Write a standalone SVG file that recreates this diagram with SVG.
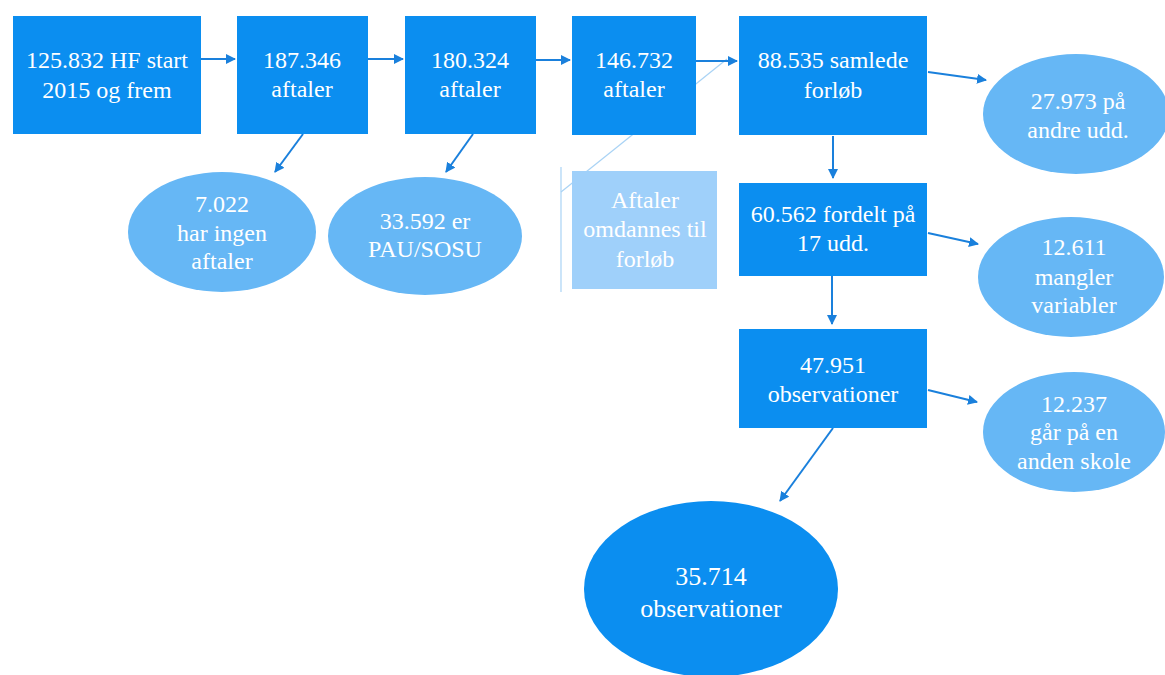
<svg xmlns="http://www.w3.org/2000/svg" width="1165" height="675" viewBox="0 0 1165 675">
<style>
.box{fill:#0b8ef0}
.ell{fill:#66b7f5}
.big{fill:#0b8ef0}
.pale{fill:#9fd0fa}
.t{font-size:24px;fill:#ffffff;text-anchor:middle}
.c{stroke:#1a80dc;stroke-width:2;fill:none;marker-end:url(#ah)}
.thin{stroke:#a9d3f5;stroke-width:1.2;fill:none}
</style>
<defs>
<marker id="ah" viewBox="0 0 10 10" refX="9" refY="5" markerWidth="5" markerHeight="5" orient="auto" markerUnits="strokeWidth">
<path d="M0,0 L10,5 L0,10 z" fill="#1a80dc"/>
</marker>
</defs>
<rect width="1165" height="675" fill="#ffffff"/>
<g id="connectors">
<line class="thin" x1="561" y1="167" x2="561" y2="292"/>
<line class="thin" x1="561" y1="192" x2="727" y2="59"/>
<line class="c" x1="201" y1="59" x2="235" y2="59"/>
<line class="c" x1="368" y1="59" x2="403" y2="59"/>
<line class="c" x1="536" y1="60" x2="570" y2="60"/>
<line class="c" x1="696" y1="61" x2="737" y2="61"/>
<line class="c" x1="303" y1="134" x2="275" y2="172"/>
<line class="c" x1="473" y1="134" x2="446" y2="172"/>
<line class="c" x1="928" y1="72" x2="986" y2="80"/>
<line class="c" x1="833" y1="136" x2="833" y2="178"/>
<line class="c" x1="928" y1="233" x2="978" y2="244"/>
<line class="c" x1="832" y1="276" x2="832" y2="324"/>
<line class="c" x1="928" y1="390" x2="977" y2="402"/>
<line class="c" x1="833" y1="428" x2="780" y2="501"/>
</g>
<g font-family="'Liberation Serif', 'Times New Roman', 'DejaVu Serif', serif">
<g id="n1"><rect class="box" x="13" y="16" width="188" height="118"/><text class="t" x="107" y="68">125.832 HF start</text><text class="t" x="107" y="98">2015 og frem</text></g>
<g id="n2"><rect class="box" x="237" y="16" width="131" height="118"/><text class="t" x="302" y="68">187.346</text><text class="t" x="302" y="97">aftaler</text></g>
<g id="n3"><rect class="box" x="405" y="16" width="131" height="118"/><text class="t" x="470" y="68">180.324</text><text class="t" x="470" y="97">aftaler</text></g>
<g id="n4"><rect class="box" x="572" y="16" width="124" height="119"/><text class="t" x="634" y="68">146.732</text><text class="t" x="634" y="97">aftaler</text></g>
<g id="n5"><rect class="box" x="739" y="16" width="188" height="119"/><text class="t" x="833" y="68">88.535 samlede</text><text class="t" x="833" y="98">forløb</text></g>
<g id="n6"><rect class="box" x="739" y="183" width="188" height="93"/><text class="t" x="833" y="222">60.562 fordelt på</text><text class="t" x="833" y="251">17 udd.</text></g>
<g id="n7"><rect class="box" x="739" y="329" width="188" height="99"/><text class="t" x="833" y="373">47.951</text><text class="t" x="833" y="402">observationer</text></g>
<g id="n8"><ellipse class="ell" cx="222" cy="232" rx="94" ry="60"/><text class="t" x="222" y="212">7.022</text><text class="t" x="222" y="241">har ingen</text><text class="t" x="222" y="269">aftaler</text></g>
<g id="n9"><ellipse class="ell" cx="425" cy="236" rx="97" ry="59"/><text class="t" x="425" y="229">33.592 er</text><text class="t" x="425" y="257">PAU/SOSU</text></g>
<g id="n10"><rect class="pale" x="572" y="171" width="145" height="118"/><text class="t" x="645" y="208">Aftaler</text><text class="t" x="645" y="237">omdannes til</text><text class="t" x="645" y="267">forløb</text></g>
<g id="n11"><ellipse class="ell" cx="1076" cy="114" rx="93" ry="60"/><text class="t" x="1078" y="109">27.973 på</text><text class="t" x="1078" y="138">andre udd.</text></g>
<g id="n12"><ellipse class="ell" cx="1071" cy="277" rx="93" ry="60"/><text class="t" x="1074" y="255">12.611</text><text class="t" x="1074" y="285">mangler</text><text class="t" x="1074" y="313">variabler</text></g>
<g id="n13"><ellipse class="ell" cx="1074" cy="432" rx="91" ry="60"/><text class="t" x="1074" y="412">12.237</text><text class="t" x="1074" y="440">går på en</text><text class="t" x="1074" y="469">anden skole</text></g>
<g id="n14"><ellipse class="big" cx="711" cy="589" rx="127" ry="88"/><text class="t" x="711" y="585" style="font-size:26px">35.714</text><text class="t" x="711" y="617" style="font-size:26px">observationer</text></g>
</g>
</svg>
